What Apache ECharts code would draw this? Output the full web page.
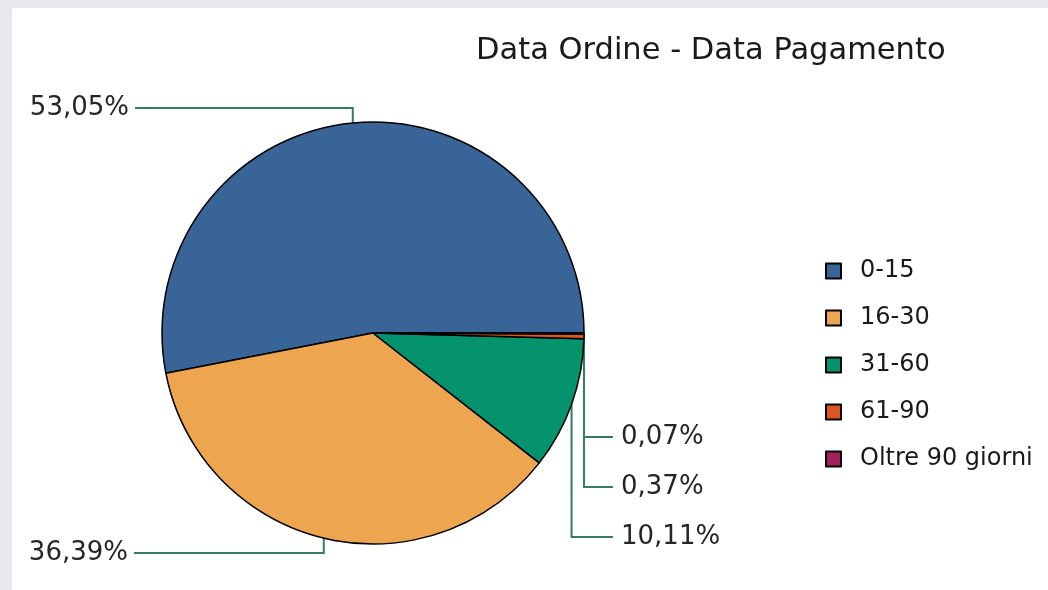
<!DOCTYPE html>
<html lang="it">
<head>
    <meta charset="utf-8"/>
    <title>Data Ordine - Data Pagamento</title>
    <script src="https://cdn.jsdelivr.net/npm/echarts@6.0.0/dist/echarts.min.js"></script>
    <style>
        html, body { margin: 0; padding: 0; background: #e8e7eb; }
        #frame { position: absolute; left: 12px; top: 8px; width: 1036px; height: 582px; background: #fff; }
        #chart { width: 1036px; height: 582px; }
    </style>
</head>
<body>
<div id="frame"><div id="chart"></div></div>
<script>
    // fasce di giorni tra ordine e pagamento
    var categories = ['0-15', '16-30', '31-60', '61-90', 'Oltre 90 giorni'];
    var percentuali = [53.05, 36.39, 10.11, 0.37, 0.07];
    var colori = ['#386497', '#eea550', '#05936d', '#dd561d', '#a3215f'];

    // posizione delle etichette (x, y, allineamento) per ogni fetta
    var etichette = [
        [117, 100, 'right'],
        [116, 545, 'right'],
        [609, 529, 'left'],
        [609, 479, 'left'],
        [609, 429, 'left']
    ];

    var dati = [];
    for (var i = 0; i < categories.length; i++) {
        dati.push({ name: categories[i], value: percentuali[i], itemStyle: { color: colori[i] } });
    }

    var myChart = echarts.init(document.getElementById('chart'));
    var options = {
        animation: false,
        title: {
            text: 'Data Ordine - Data Pagamento',
            left: 459,
            top: 23,
            textStyle: {
                fontFamily: 'DejaVu Sans',
                fontSize: 30.5,
                fontWeight: 'normal',
                color: '#1a1a1a'
            }
        },
        legend: {
            orient: 'vertical',
            left: 808,
            top: 246,
            icon: 'rect',
            itemWidth: 15,
            itemHeight: 15,
            itemGap: 23,
            data: categories,
            textStyle: {
                fontFamily: 'DejaVu Sans',
                fontSize: 24,
                color: '#1a1a1a',
                padding: [0, 0, 0, 14]
            }
        },
        series: [{
            type: 'pie',
            center: [361, 325],
            radius: 211,
            startAngle: 0,
            clockwise: false,
            avoidLabelOverlap: false,
            emphasis: { disabled: true },
            itemStyle: { borderColor: '#000', borderWidth: 1.5 },
            label: {
                show: true,
                position: 'outside',
                fontFamily: 'DejaVu Sans',
                fontSize: 26,
                color: '#262626',
                formatter: function (p) {
                    return p.value.toFixed(2).replace('.', ',') + '%';
                }
            },
            labelLine: {
                show: true,
                length: 10,
                length2: 10,
                lineStyle: { color: '#337d62', width: 2 }
            },
            labelLayout: function (params) {
                var e = etichette[params.dataIndex];
                var a = params.labelLinePoints[0];
                var fine = e[2] === 'right' ? e[0] + 6 : e[0] - 8;
                return {
                    x: e[0],
                    y: e[1],
                    align: e[2],
                    verticalAlign: 'middle',
                    labelLinePoints: [[a[0], a[1]], [a[0], e[1]], [fine, e[1]]]
                };
            },
            data: dati
        }]
    };
    myChart.setOption(options);
</script>
</body>
</html>
